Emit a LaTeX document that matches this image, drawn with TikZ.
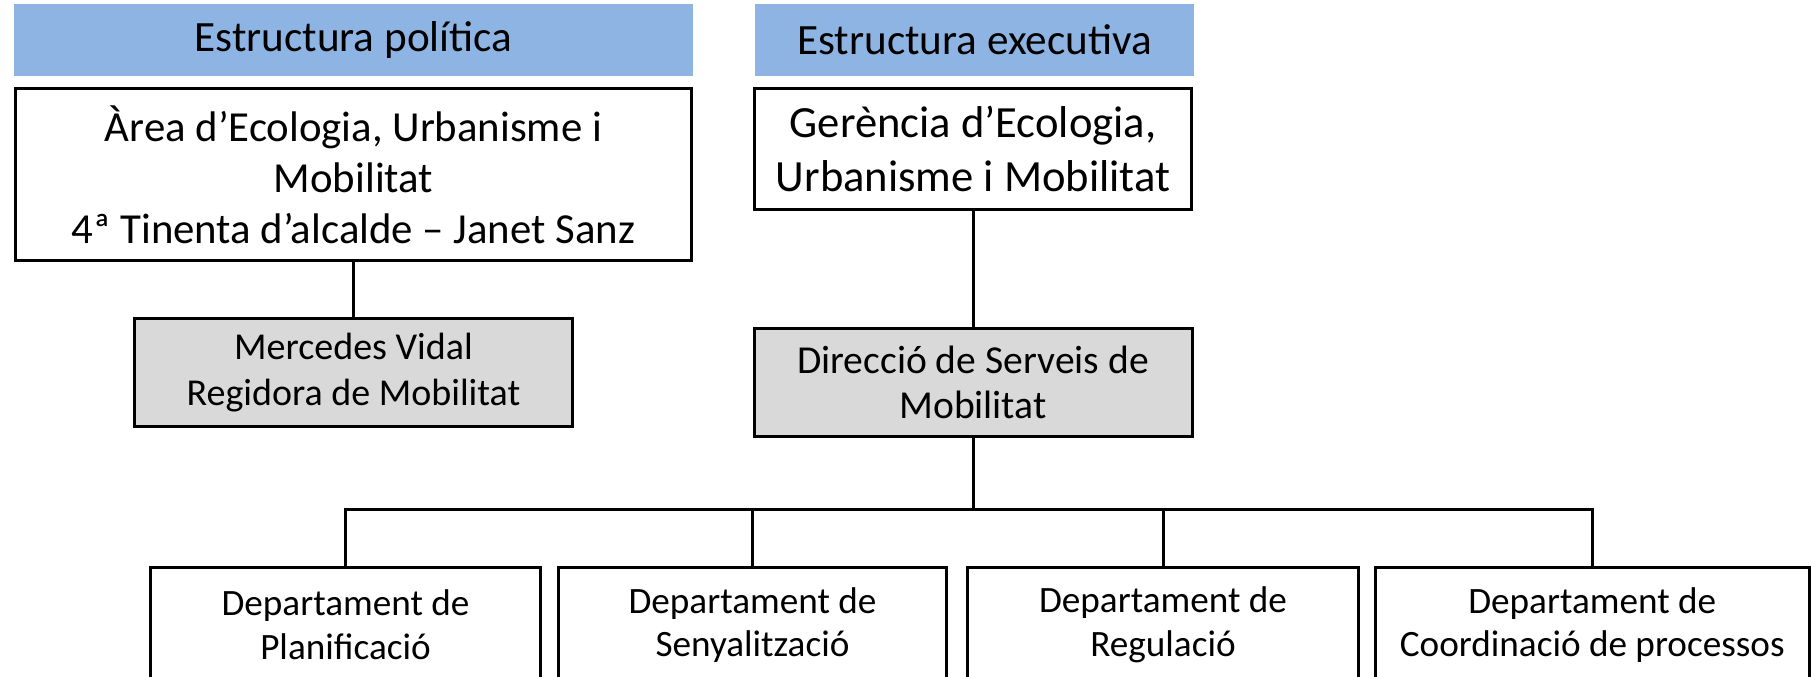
\documentclass[tikz,border=0pt]{standalone}
\usepackage{fontspec}
\setmainfont{Carlito}
\definecolor{hdrblue}{RGB}{141,180,226}
\definecolor{boxgray}{RGB}{217,217,217}
\begin{document}
\begin{tikzpicture}[x=0.5pt,y=-0.5pt,
  hdr/.style={fill=hdrblue, inner sep=0pt, minimum height=36pt, font=\fontsize{21.6}{26}\selectfont},
  box/.style={draw=black, line width=1.5pt, fill=white, inner sep=0pt, align=center},
  graybox/.style={box, fill=boxgray},
  atxt/.style={font=\fontsize{21.4}{25.5}\selectfont},
  gtxt/.style={font=\fontsize{22.3}{27}\selectfont},
  mtxt/.style={font=\fontsize{19}{23}\selectfont},
  dtxt/.style={font=\fontsize{19.8}{22.5}\selectfont},
  smalltxt/.style={font=\fontsize{18.6}{21.8}\selectfont},
  conn/.style={draw=black, line width=1.5pt}
]
\useasboundingbox (0,0) rectangle (1812,676);
\clip (0,0) rectangle (1812,676);
\fill[white] (0,0) rectangle (1812,676);

\node[hdr, minimum width=339.5pt] (h1) at (353.5,40) {Estructura política};
\node[hdr, minimum width=219.5pt] (h2) at (974.5,40) {Estructura executiva};

\node[box, atxt, minimum width=338pt, minimum height=86pt] (A) at (353.5,174.5)
  {Àrea d’Ecologia, Urbanisme i\\Mobilitat\\4ª Tinenta d’alcalde – Janet Sanz};
\node[graybox, mtxt, minimum width=219pt, minimum height=54pt] (M) at (353.5,372.5)
  {Mercedes Vidal\\Regidora de Mobilitat};

\node[box, gtxt, minimum width=218.5pt, minimum height=60.5pt] (G) at (973,149)
  {Gerència d’Ecologia,\\Urbanisme i Mobilitat};
\node[graybox, dtxt, minimum width=219pt, minimum height=54pt] (D) at (973,382.5)
  {Direcció de Serveis de\\Mobilitat};

\node[box, smalltxt, minimum width=195pt, minimum height=58pt] (d1) at (345.5,625)
  {Departament de\\Planificació};
\node[box, smalltxt, minimum width=194pt, minimum height=58pt] (d2) at (752.5,625)
  {Departament de\\Senyalització};
\node[box, smalltxt, minimum width=195.5pt, minimum height=58pt] (d3) at (1163,625)
  {Departament de\\Regulació};
\node[box, smalltxt, minimum width=216.75pt, minimum height=58pt] (d4) at (1592.25,625)
  {Departament de\\Coordinació de processos};

\coordinate (bus) at (973,509);

\draw[conn] (A.south) -- (M.north);
\draw[conn] (G.south) -- (D.north);
\draw[conn] (D.south) -- (bus);
\draw[conn] (d1.north) |- (bus) -| (d4.north);
\draw[conn] (d2.north) -- (d2.north |- bus);
\draw[conn] (d3.north) -- (d3.north |- bus);
\end{tikzpicture}
\end{document}
